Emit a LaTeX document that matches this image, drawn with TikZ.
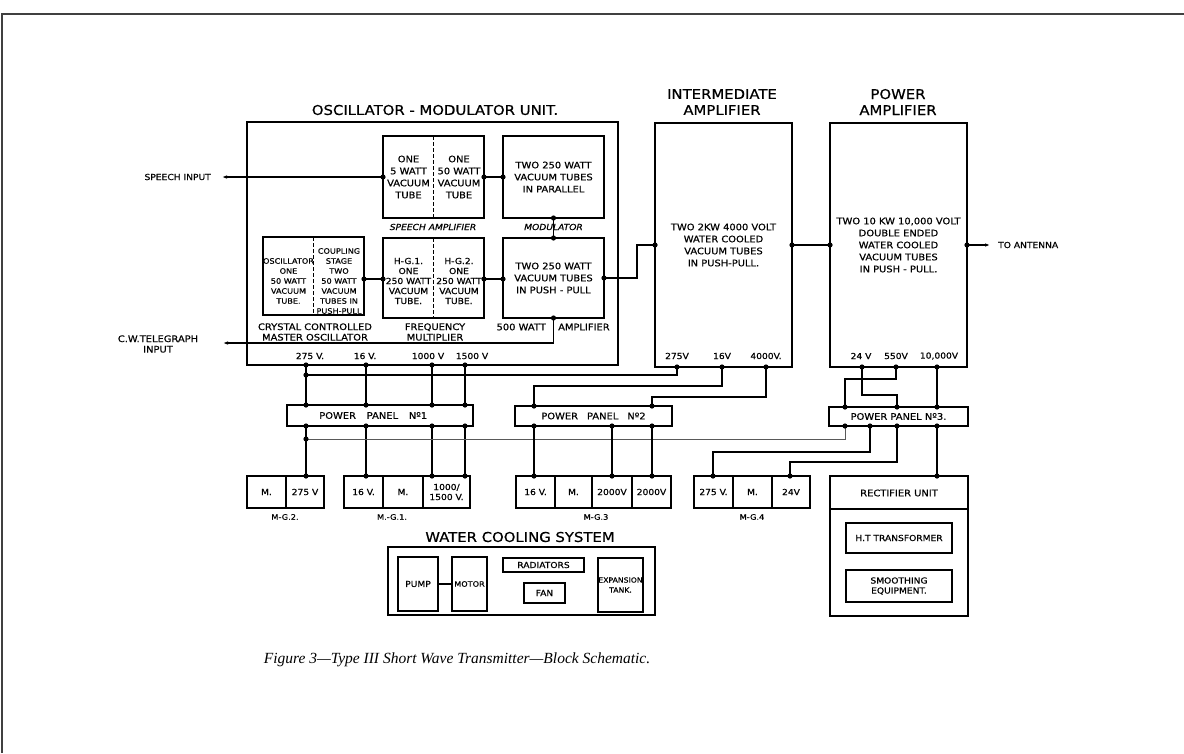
\documentclass[tikz,border=0pt]{standalone}
\usepackage{fontspec}
\setmainfont{Liberation Serif}
\newfontfamily\lett{DejaVu Sans}[FakeStretch=1.1, FakeBold=0.6]
\usetikzlibrary{arrows.meta,positioning}

\newcommand{\titlefont}{\lett\fontsize{13.5}{16}\selectfont}
\newcommand{\boxfont}{\lett\fontsize{9}{12}\selectfont}
\newcommand{\tightfont}{\lett\fontsize{8.3}{10}\selectfont}
\newcommand{\tinyfont}{\lett\fontsize{7.4}{10}\selectfont}
\newcommand{\lblfont}{\lett\fontsize{9}{10.5}\selectfont}
\newcommand{\voltfont}{\lett\fontsize{8.3}{10}\selectfont}

\tikzset{
  box/.style={draw, line width=1.5pt, inner sep=0pt, outer sep=0pt, anchor=north west, align=center, font=\boxfont},
  mgbox/.style={box, minimum height=32pt, font=\voltfont},
  divider/.style={line width=1.3pt, dash pattern=on 4pt off 2pt},
  wire/.style={line width=1.1pt},
  thinwire/.style={line width=0.6pt, black!65},
  feed/.style={wire, -{Latex[length=5pt,width=3.5pt]}},
  title/.style={font=\titlefont, align=center, inner sep=0pt},
  txt/.style={font=\boxfont, align=center, inner sep=0pt},
  lbl/.style={font=\lblfont, align=center, inner sep=0pt},
  volt/.style={font=\voltfont, inner sep=0pt},
}

\begin{document}
\begin{tikzpicture}[x=1pt,y=-1pt]
    \useasboundingbox (0,0) rectangle (1184,753);
    \draw[line width=1.2pt, black!75] (2,753) -- (2,14) -- (1184,14);

    % Oscillator - modulator unit
    \node[box, minimum width=371pt, minimum height=243pt] (osc) at (247,122) {};
    \node[title] (osctitle) at (435,110) {OSCILLATOR - MODULATOR UNIT.};

    \node[box, minimum width=101pt, minimum height=82pt] (spamp) at (383,136) {};
    \draw[divider] (spamp.north) -- (spamp.south);
    \node[txt] (spampL) at (408.5,177) {ONE\\5 WATT\\VACUUM\\TUBE};
    \node[txt] (spampR) at (459,177) {ONE\\50 WATT\\VACUUM\\TUBE};
    \node[lbl, font=\lett\itshape\fontsize{8.3}{10}\selectfont] (spamplbl) at (433,227) {SPEECH AMPLIFIER};

    \node[box, minimum width=101pt, minimum height=82pt] (modu) at (503,136) {TWO 250 WATT\\VACUUM TUBES\\IN PARALLEL};
    \node[lbl, font=\lett\itshape\fontsize{8.3}{10}\selectfont] (modlbl) at (553.5,227) {MODULATOR};

    \node[box, minimum width=101pt, minimum height=78pt] (xtal) at (263,237) {};
    \draw[divider] (xtal.north) -- (xtal.south);
    \node[txt, font=\tinyfont] (xtalL) at (288.5,281) {OSCILLATOR\\ONE\\50 WATT\\VACUUM\\TUBE.};
    \node[txt, font=\tinyfont] (xtalR) at (339,281) {COUPLING\\STAGE\\TWO\\50 WATT\\VACUUM\\TUBES IN\\PUSH-PULL};
    \node[lbl] (xtallbl) at (315,332) {CRYSTAL CONTROLLED\\MASTER OSCILLATOR};

    \node[box, minimum width=101pt, minimum height=80pt] (fmult) at (383,238) {};
    \draw[divider] (fmult.north) -- (fmult.south);
    \node[txt, font=\tightfont] (fmultL) at (408.5,281) {H-G.1.\\ONE\\250 WATT\\VACUUM\\TUBE.};
    \node[txt, font=\tightfont] (fmultR) at (459,281) {H-G.2.\\ONE\\250 WATT\\VACUUM\\TUBE.};
    \node[lbl] (fmultlbl) at (435,332) {FREQUENCY\\MULTIPLIER};

    \node[box, minimum width=101pt, minimum height=80pt] (ppamp) at (503,238) {TWO 250 WATT\\VACUUM TUBES\\IN PUSH - PULL};
    \node[lbl, anchor=east] (pplblA) at (546,327) {500 WATT};
    \node[lbl, anchor=west] (pplblB) at (558,327) {AMPLIFIER};

    \node[volt] (v275) at (310,356) {275 V.};
    \node[volt] (v16) at (365,356) {16 V.};
    \node[volt] (v1000) at (428,356) {1000 V};
    \node[volt] (v1500) at (472,356) {1500 V};

    % Inputs
    \coordinate (spin) at (222,177);
    \coordinate (cwin) at (223,343);
    \node[lbl, anchor=east, font=\tightfont] (spinlbl) at (211,177) {SPEECH INPUT};
    \node[lbl] (cwinlbl) at (158,344) {C.W.TELEGRAPH\\INPUT};

    % Amplifiers
    \node[title] (iamptitle) at (722,102) {INTERMEDIATE\\AMPLIFIER};
    \node[box, minimum width=137pt, minimum height=244pt] (iamp) at (655,123) {TWO 2KW 4000 VOLT\\WATER COOLED\\VACUUM TUBES\\IN PUSH-PULL.};
    \node[title] (pamptitle) at (898,102) {POWER\\AMPLIFIER};
    \node[box, minimum width=137pt, minimum height=244pt] (pamp) at (830,123) {TWO 10 KW 10,000 VOLT\\DOUBLE ENDED\\WATER COOLED\\VACUUM TUBES\\IN PUSH - PULL.};
    \coordinate (ant) at (990,245);
    \node[lbl, anchor=west, font=\tightfont] (antlbl) at (998,245) {TO ANTENNA};

    \node[volt] (i275) at (677,356) {275V};
    \node[volt] (i16) at (722,356) {16V};
    \node[volt] (i4000) at (766,356) {4000V.};
    \node[volt] (p24) at (861,356) {24 V};
    \node[volt] (p550) at (896,356) {550V};
    \node[volt] (p10k) at (939,356) {10,000V};

    % Power panels
    \node[box, minimum width=186pt, minimum height=21pt] (pan1) at (287,405) {POWER\hspace{1.2em}PANEL\hspace{1.2em}Nº1\hspace{1.5em}};
    \node[box, minimum width=157pt, minimum height=20pt] (pan2) at (515,406) {POWER\hspace{1em}PANEL\hspace{1em}Nº2};
    \node[box, minimum width=139pt, minimum height=19pt] (pan3) at (829,407) {POWER PANEL Nº3.};

    % Motor generator sets
    \node[mgbox, minimum width=39pt] (mg2m) at (247,476) {M.};
    \node[mgbox, minimum width=38pt, right=0pt of mg2m] (mg2v) {275 V};
    \node[mgbox, minimum width=39pt] (mg1v) at (344,476) {16 V.};
    \node[mgbox, minimum width=40pt, right=0pt of mg1v] (mg1m) {M.};
    \node[mgbox, minimum width=47pt, right=0pt of mg1m] (mg1h) {1000/\\1500 V.};
    \node[mgbox, minimum width=39pt] (mg3v) at (516,476) {16 V.};
    \node[mgbox, minimum width=37pt, right=0pt of mg3v] (mg3m) {M.};
    \node[mgbox, minimum width=40pt, right=0pt of mg3m] (mg3a) {2000V};
    \node[mgbox, minimum width=39pt, right=0pt of mg3a] (mg3b) {2000V};
    \node[mgbox, minimum width=39pt] (mg4v) at (694,476) {275 V.};
    \node[mgbox, minimum width=39pt, right=0pt of mg4v] (mg4m) {M.};
    \node[mgbox, minimum width=38pt, right=0pt of mg4m] (mg4l) {24V};
    \node[volt, font=\lett\fontsize{7.5}{8}\selectfont] (mg2lbl) at (285,517) {M-G.2.};
    \node[volt, font=\lett\fontsize{7.5}{8}\selectfont] (mg1lbl) at (392,517) {M.-G.1.};
    \node[volt, font=\lett\fontsize{7.5}{8}\selectfont] (mg3lbl) at (596,517) {M-G.3};
    \node[volt, font=\lett\fontsize{7.5}{8}\selectfont] (mg4lbl) at (752,517) {M-G.4};

    % Rectifier unit
    \node[box, minimum width=138pt, minimum height=140pt] (rect) at (830,476) {};
    \draw[line width=1.5pt] ([yshift=-33pt]rect.north west) -- ([yshift=-33pt]rect.north east);
    \node[txt] (recthead) at (899,493) {RECTIFIER UNIT};
    \node[box, minimum width=106pt, minimum height=30pt, font=\tightfont] (htx) at (846,523) {H.T TRANSFORMER};
    \node[box, minimum width=106pt, minimum height=32pt, font=\tightfont] (smooth) at (846,570) {SMOOTHING\\EQUIPMENT.};

    % Water cooling system
    \node[title] (wctitle) at (520,537) {WATER COOLING SYSTEM};
    \node[box, minimum width=267pt, minimum height=68pt] (wc) at (388,547) {};
    \node[box, minimum width=40pt, minimum height=54pt, font=\tightfont] (pump) at (398,557) {PUMP};
    \node[box, minimum width=35pt, minimum height=54pt, font=\tinyfont] (motor) at (452,557) {MOTOR};
    \node[box, minimum width=81pt, minimum height=14pt, font=\tightfont] (rad) at (503,558) {RADIATORS};
    \node[box, minimum width=41pt, minimum height=20pt, font=\tightfont] (fan) at (524,583) {FAN};
    \node[box, minimum width=45pt, minimum height=54pt, font=\lett\fontsize{7}{10}\selectfont] (tank) at (598,558) {EXPANSION\\TANK.};
    \draw[line width=2pt] (pump.east) -- (motor.west);

    % Caption
    \node[font=\fontsize{15.5}{18}\selectfont\itshape, inner sep=0pt] (caption) at (457,660) {Figure 3---Type III Short Wave Transmitter---Block Schematic.};

    % Junction points
    \coordinate (xo) at (364,279); \coordinate (fi) at (383,279);
    \coordinate (fo) at (484,279); \coordinate (pi) at (503,279);
    \coordinate (ppo) at (604,278);
    \coordinate (oA) at (306,365); \coordinate (oB) at (366,365);
    \coordinate (oC) at (432,365); \coordinate (oD) at (465,365);
    \coordinate (jA) at (306,375);
    \coordinate (ia275) at (677,367); \coordinate (ia16) at (722,367); \coordinate (ia4000) at (766,367);
    \coordinate (pa24) at (862,367); \coordinate (pa550) at (896,367); \coordinate (pa10k) at (937,367);
    \coordinate (p1tA) at (306,405); \coordinate (p1tB) at (366,405);
    \coordinate (p1tC) at (432,405); \coordinate (p1tD) at (465,405);
    \coordinate (p1bA) at (306,426); \coordinate (p1bB) at (366,426);
    \coordinate (p1bC) at (432,426); \coordinate (p1bD) at (465,426);
    \coordinate (p1jA) at (306,439);
    \coordinate (p2tA) at (534,406); \coordinate (p2tB) at (652,406);
    \coordinate (p2bA) at (534,426); \coordinate (p2bB) at (612,426); \coordinate (p2bC) at (652,426);
    \coordinate (p3tA) at (845,407); \coordinate (p3tC) at (897,407); \coordinate (p3tD) at (937,407);
    \coordinate (p3bA) at (845,426); \coordinate (p3bB) at (870,426);
    \coordinate (p3bC) at (897,426); \coordinate (p3bD) at (937,426);
    \coordinate (g2) at (306,476);
    \coordinate (g1a) at (366,476); \coordinate (g1b) at (432,476); \coordinate (g1c) at (465,476);
    \coordinate (g3a) at (534,476); \coordinate (g3b) at (612,476); \coordinate (g3c) at (652,476);
    \coordinate (g4a) at (713,476); \coordinate (g4b) at (790,476);
    \coordinate (rtop) at (937,476);

    % Signal path
    \draw[feed] (spamp.west) -- (spin);
    \draw[wire] (spamp.east) -- (modu.west);
    \draw[wire] (modu.south) -- (ppamp.north);
    \draw[wire] (xo) -- (fi);
    \draw[wire] (fo) -- (pi);
    \draw[feed] (ppamp.south) |- (cwin);
    \draw[wire] (ppo) -- ++(33,0) |- (iamp.west);
    \draw[wire] (iamp.east) -- (pamp.west);
    \draw[feed] (pamp.east) -- (ant);

    % Supply wiring
    \draw[wire] (oA) -- (p1tA);
    \draw[wire] (oB) -- (p1tB);
    \draw[wire] (oC) -- (p1tC);
    \draw[wire] (oD) -- (p1tD);
    \draw[wire] (jA) -| (ia275);
    \draw[wire] (ia16) -- ++(0,19) -| (p2tA);
    \draw[wire] (ia4000) -- ++(0,30) -| (p2tB);
    \draw[wire] (pa24) -- ++(0,28) -| (p3tC);
    \draw[wire] (pa550) -- ++(0,12) -| (p3tA);
    \draw[wire] (pa10k) -- (p3tD);
    \draw[wire] (p1bA) -- (g2);
    \draw[wire] (p1bB) -- (g1a);
    \draw[wire] (p1bC) -- (g1b);
    \draw[wire] (p1bD) -- (g1c);
    \draw[thinwire] (p1jA) -| (p3bA);
    \draw[wire] (p2bA) -- (g3a);
    \draw[wire] (p2bB) -- (g3b);
    \draw[wire] (p2bC) -- (g3c);
    \draw[wire] (p3bB) -- ++(0,26) -| (g4a);
    \draw[wire] (p3bC) -- ++(0,36) -| (g4b);
    \draw[wire] (p3bD) -- (rtop);

    \foreach \c in {spamp.west, spamp.east, modu.west, modu.south, ppamp.north, ppamp.south,
        xo, fi, fo, pi, ppo, iamp.west, iamp.east, pamp.west, pamp.east,
        oA, oB, oC, oD, jA, ia275, ia16, ia4000, pa24, pa550, pa10k,
        p1tA, p1tB, p1tC, p1tD, p1bA, p1bB, p1bC, p1bD, p1jA,
        p2tA, p2tB, p2bA, p2bB, p2bC, p3tA, p3tC, p3tD, p3bA, p3bB, p3bC, p3bD,
        g2, g1a, g1b, g1c, g3a, g3b, g3c, g4a, g4b, rtop}
        \fill (\c) circle[radius=2.6pt];
\end{tikzpicture}
\end{document}
